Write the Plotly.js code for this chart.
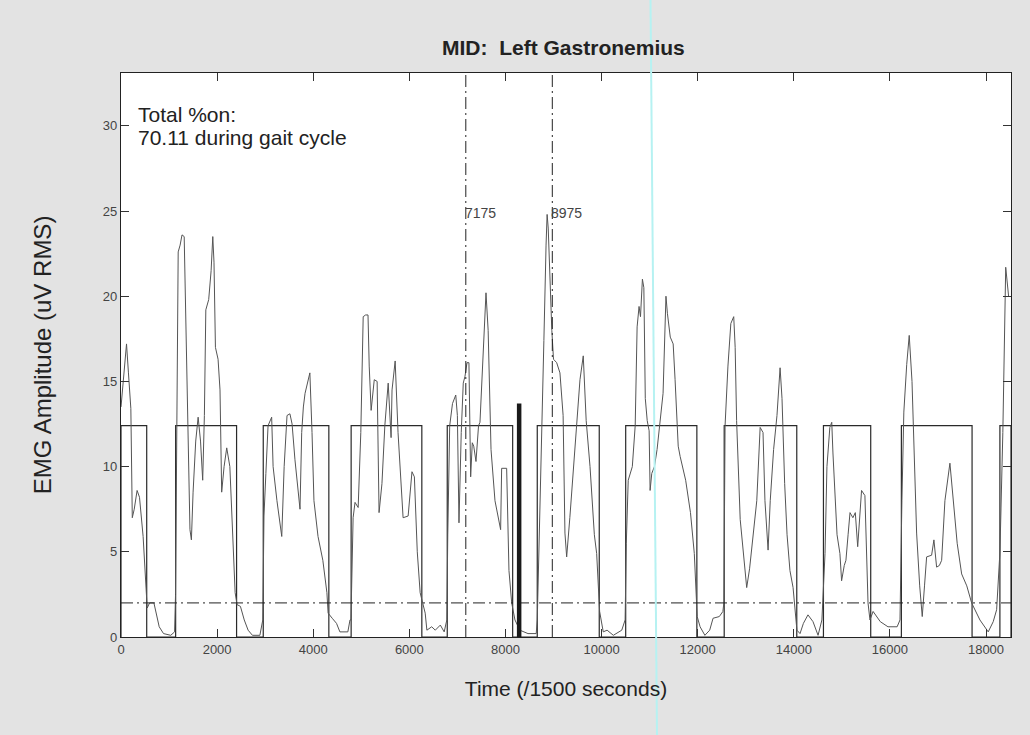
<!DOCTYPE html>
<html>
<head>
<meta charset="utf-8">
<script src="https://cdn.plot.ly/plotly-3.0.1.min.js"></script>
<style>html,body{margin:0;padding:0;background:#e3e3e3;}#chart{width:1030px;height:735px;}</style>
</head>
<body>
<div id="chart"></div>
<script>
// EMG envelope (time in 1/1500 s, amplitude in uV RMS)
const emgTime = [
0,115,155,205,235,275,335,385,460,505,545,595,685,795,885,1035,1115,1135,
1160,1190,1230,1270,1315,1345,1385,1435,1465,1500,1555,1605,1655,1700,1735,1765,1825,1875,1910,1935,1965,2020,2060,2080,2095,2145,2200,2265,2330,2375,2415,2485,2565,2645,2735,2890,
2950,2975,3015,3060,3135,3165,3245,3295,3345,3395,3455,3515,3560,3620,3675,3725,3760,3795,3830,3885,3930,3975,4015,4100,4200,4285,4310,4395,4485,4555,4720,4765,
4785,4830,4870,4935,4990,5040,5090,5140,5165,5205,5240,5270,5330,5370,5430,5490,5560,5600,5620,5640,5705,5765,5820,5870,5975,6055,6105,6165,6225,6275,6330,6365,6465,6540,6645,6725,6780,
6800,6840,6898,6966,7000,7033,7080,7122,7158,7200,7240,7276,7310,7340,7387,7440,7470,7532,7595,7640,7700,7782,7871,7900,7921,8025,8073,8130,8198,8300,8469,8640,8662,
8680,8720,8754,8800,8845,8867,8890,8925,8965,9000,9066,9134,9200,9238,9274,9340,9411,9480,9551,9619,9680,9760,9850,9898,9960,10035,10115,10245,10420,10490,
10515,10555,10640,10700,10740,10780,10810,10850,10880,10910,10950,10990,11010,11045,11100,11155,11210,11280,11340,11370,11430,11490,11530,11595,11635,11750,11850,11930,11990,12050,12150,12250,12320,12450,12525,
12545,12570,12630,12690,12750,12780,12810,12885,12950,13020,13080,13150,13230,13300,13360,13400,13465,13510,13580,13650,13690,13715,13755,13810,13860,13920,13985,14065,14130,14200,14295,14400,14505,14585,
14650,14690,14750,14790,14815,14900,14960,14995,15050,15085,15130,15170,15230,15280,15330,15380,15410,15480,15545,15585,15650,15800,15960,16150,16210,
16250,16290,16350,16402,16460,16520,16556,16620,16673,16720,16764,16868,16916,16972,17030,17077,17145,17249,17318,17400,17493,17600,17701,17873,18046,18150,18221,18290,
18350,18410,18470
];
const emgAmp = [
13.5,17.2,15.5,13.4,7.0,7.5,8.6,8.2,5.9,3.5,1.7,2.0,2.0,0.6,0.2,0.1,0.3,2.5,
12,22.6,23.0,23.6,23.5,18.6,12,6.3,5.7,8.5,11.5,12.9,11.5,9.2,13,19.2,19.8,21.5,23.5,22,17,16.3,14.5,10,8.5,10,11.1,10,6,2.6,1.9,1.8,1.0,0.4,0.1,0.1,
1,7.1,9.6,12.4,12.9,10,8.0,7,5.9,10,13.0,13.1,12.5,10.4,9,7.5,12,13.5,14.3,15.0,15.5,12,8,5.9,4.5,2.6,1.4,1.1,0.8,0.3,0.3,1,
1,7.0,7.9,7.6,12,18.8,18.9,18.9,15.9,13.3,14.5,15.1,15.0,7.3,9,12.4,14.9,13,11.7,14.5,16.2,12,9,7.0,7.1,9.7,9.4,5,2.6,2.1,1.4,0.4,0.6,0.4,0.7,0.3,1,
6,12.4,13.7,14.2,13,6.7,12,14.9,15.3,16.1,16.1,9.4,11.4,11.2,10.3,12.4,12.6,16,20.2,18,11,8.0,6.7,6.3,9.9,9.9,3.9,2.0,1.0,0.4,0.2,0.2,1,
3,7.9,12.4,17.4,23,24.8,24.0,21,18,16.3,16.1,15.5,13,6.1,4.7,7,9.8,12.5,15.1,16.5,12.7,10,6,4.9,1.5,0.3,0.4,0.1,0.4,1,
5.5,9.2,10,12.4,18.2,19.4,18.8,21.0,20.5,14,12.7,12.1,8.6,9.6,10,11,12.5,14.3,20.0,19.0,17.6,17.2,15.1,11.2,10.6,9.2,7.3,4.9,1.2,0.6,0.1,0.4,1.1,1.2,1.5,
2,12.4,15.9,18.4,18.8,17,12.7,6.9,5.0,2.9,4,5.7,8,12.3,12.0,8,5.1,8,11,13,14.5,15.8,14,9,6,3.9,2.9,0.4,0.2,0.8,1.3,0.9,0.1,1,
4.9,10,12.3,12.6,10.8,6,4.9,3.3,4.2,4.5,6,7.3,7.0,7.3,5.3,7.5,8.6,8.3,2.0,1.0,1.5,0.9,0.6,0.6,1,
8,13.2,16,17.7,15,9,6.1,3,1.2,3,4.7,4.8,5.7,4.1,4.2,4.5,8.0,10.2,8.0,5.5,3.7,3.0,2.0,1.0,0.3,0.9,1.6,5,
12,21.7,20
];

// muscle on/off windows
const onsetTimes  = [0, 1137, 2960, 4789, 6789, 8662, 10502, 12552, 14617, 16239, 18289];
const offsetTimes = [535, 2405, 4325, 6260, 8150, 9952, 11983, 14062, 15601, 17710, 18520];
const onLevel = 12.4;
const thresholdLevel = 2.0;
const markerTimes = [7175, 8975];
const markerLabels = ['7175', '8975'];
const barTime = 8285;
const barHeight = 13.7;
const xMax = 18520;
const yMax = 33.1;

const boxX = [], boxY = [];
onsetTimes.forEach((on, i) => {
  const off = offsetTimes[i];
  boxX.push(on, on, off, off);
  boxY.push(0, onLevel, onLevel, 0);
});

const dd = '12px,4px,2px,4px';
const traces = [
  {x: boxX, y: boxY, mode: 'lines', line: {color: '#2a2a2a', width: 1.2}},
  {x: emgTime, y: emgAmp, mode: 'lines', line: {color: '#555', width: 1}},
  {x: [0, xMax], y: [thresholdLevel, thresholdLevel], mode: 'lines', line: {color: '#222', width: 1, dash: dd}},
  {x: [markerTimes[0], markerTimes[0]], y: [0, yMax], mode: 'lines', line: {color: '#222', width: 1, dash: dd}},
  {x: [markerTimes[1], markerTimes[1]], y: [0, yMax], mode: 'lines', line: {color: '#222', width: 1, dash: dd}},
  {x: [barTime, barTime], y: [0, barHeight], mode: 'lines', line: {color: '#1a1a1a', width: 4.5}}
];

const fontFam = 'Liberation Sans, Arial, Helvetica, sans-serif';
const layout = {
  width: 1030, height: 735,
  margin: {l: 121, r: 19, t: 73, b: 98},
  paper_bgcolor: '#e3e3e3',
  plot_bgcolor: '#ffffff',
  showlegend: false,
  font: {family: fontFam, color: '#333'},
  title: {text: '<b>MID:  Left Gastronemius</b>', font: {size: 21, color: '#222', family: fontFam}, x: 0.547, xanchor: 'center', y: 0.935, yanchor: 'middle'},
  xaxis: {
    range: [0, xMax], tick0: 0, dtick: 2000, tickformat: 'd', ticks: 'inside', ticklen: 8, tickcolor: '#333',
    mirror: 'ticks', showline: true, linecolor: '#222', linewidth: 1.2, showgrid: false, zeroline: false,
    tickfont: {size: 13, color: '#444'},
    title: {text: 'Time (/1500 seconds)', font: {size: 21, color: '#222'}, standoff: 25}
  },
  yaxis: {
    range: [0, yMax], tick0: 0, dtick: 5, ticks: 'inside', ticklen: 8, tickcolor: '#333',
    mirror: 'ticks', showline: true, linecolor: '#222', linewidth: 1.2, showgrid: false, zeroline: false,
    tickfont: {size: 13, color: '#444'},
    title: {text: 'EMG Amplitude (uV RMS)', font: {size: 24, color: '#222'}, standoff: 44}
  },
  annotations: [
    {xref: 'paper', yref: 'paper', x: 0.017, y: 0.926, xanchor: 'left', yanchor: 'middle', showarrow: false, text: 'Total %on:', font: {size: 21, color: '#222'}},
    {xref: 'paper', yref: 'paper', x: 0.017, y: 0.8855, xanchor: 'left', yanchor: 'middle', showarrow: false, text: '70.11 during gait cycle', font: {size: 21, color: '#222'}},
    {x: markerTimes[0], y: 24.9, xanchor: 'left', yanchor: 'middle', showarrow: false, text: markerLabels[0], font: {size: 14, color: '#444'}, xshift: -3},
    {x: markerTimes[1], y: 24.9, xanchor: 'left', yanchor: 'middle', showarrow: false, text: markerLabels[1], font: {size: 14, color: '#444'}, xshift: -3}
  ],
  shapes: [
    {type: 'line', xref: 'paper', yref: 'paper', x0: (650.5 - 121) / 890, x1: (657 - 121) / 890, y0: 637 / 563.5, y1: -98 / 563.5, line: {color: '#b6f2f2', width: 2}, layer: 'above'}
  ]
};

Plotly.newPlot('chart', traces, layout, {staticPlot: true});
</script>
</body>
</html>
